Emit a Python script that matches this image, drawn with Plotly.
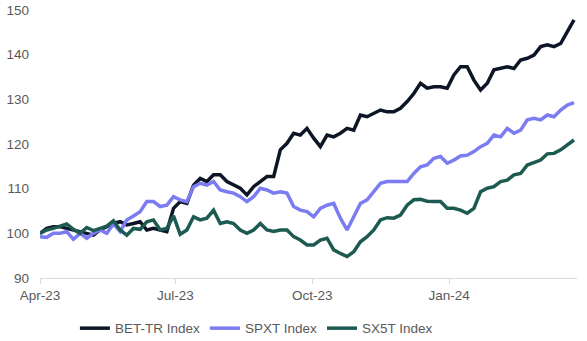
import pandas as pd
import plotly.graph_objects as go

start_date = "2023-04-01"
end_date = "2024-03-25"
n_points = 81
dates = pd.date_range(start_date, end_date, periods=n_points)

bet_tr = [100.0, 101.1, 101.5, 101.5, 101.1, 100.75, 100.4, 100.0, 99.6, 100.75,
          101.5, 102.2, 102.6, 101.9, 102.2, 102.6, 100.75, 101.1, 100.75, 100.4,
          105.6, 107.1, 106.7, 110.8, 112.3, 111.6, 113.1, 113.1, 111.6, 110.8,
          110.1, 108.6, 110.45, 111.6, 112.7, 112.7, 118.7, 120.15, 122.4, 122.0,
          123.5, 121.3, 119.4, 122.0, 121.6, 122.4, 123.5, 123.1, 126.5, 126.1,
          126.9, 127.6, 127.2, 127.2, 128.0, 129.5, 131.3, 133.6, 132.5, 132.8,
          132.8, 132.5, 135.45, 137.3, 137.3, 134.3, 132.1, 133.6, 136.6, 136.9,
          137.3, 136.9, 138.8, 139.2, 139.9, 141.8, 142.2, 141.8, 142.5, 145.15,
          147.8]

spxt = [99.25, 99.1, 100.0, 100.0, 100.4, 98.65, 100.0, 98.9, 100.0, 100.75,
        100.0, 102.1, 100.4, 103.0, 103.9, 104.85, 107.1, 107.1, 106.0, 106.3,
        108.2, 107.5, 107.1, 110.45, 111.2, 110.8, 111.6, 109.7, 109.3, 109.0,
        108.2, 107.1, 108.2, 110.1, 109.7, 109.0, 109.3, 109.0, 106.0, 105.2,
        104.85, 103.7, 105.6, 106.3, 106.7, 103.4, 100.75, 103.7, 106.7, 107.5,
        109.3, 111.2, 111.6, 111.6, 111.6, 111.6, 113.4, 114.9, 115.3, 116.8,
        117.2, 115.7, 116.4, 117.3, 117.5, 118.3, 119.4, 120.15, 122.0, 121.6,
        123.5, 122.4, 123.1, 125.4, 125.75, 125.4, 126.5, 126.1, 127.6, 128.7,
        129.25]

sx5t = [100.0, 100.75, 101.1, 101.6, 102.1, 100.9, 100.0, 101.3, 100.6, 101.1,
        101.6, 102.8, 100.75, 99.6, 101.1, 100.9, 102.6, 103.0, 100.75, 101.1,
        103.9, 99.8, 100.75, 103.7, 103.0, 103.4, 105.2, 102.2, 102.6, 102.2,
        100.75, 100.0, 100.75, 102.2, 100.75, 100.4, 100.75, 100.75, 99.25, 98.5,
        97.4, 97.4, 98.5, 98.9, 96.3, 95.5, 94.8, 95.9, 98.1, 99.25,
        100.75, 103.0, 103.5, 103.4, 104.1, 106.3, 107.5, 107.6, 107.2, 107.1,
        107.1, 105.6, 105.6, 105.2, 104.5, 105.6, 109.3, 110.1, 110.45, 111.6,
        111.9, 113.1, 113.4, 115.3, 115.8, 116.4, 117.8, 117.9, 118.7, 119.8,
        120.9]

series_names = ["BET-TR Index", "SPXT Index", "SX5T Index"]
series_values = [bet_tr, spxt, sx5t]
series_colors = ["#0d1626", "#7b7cf2", "#1c5a52"]

tick_dates = ["2023-04-01", "2023-07-01", "2023-10-01", "2024-01-01"]
tick_labels = ["Apr-23", "Jul-23", "Oct-23", "Jan-24"]
y_ticks = [90, 100, 110, 120, 130, 140, 150]

fig = go.Figure()
for name, vals, col in zip(series_names, series_values, series_colors):
    fig.add_trace(go.Scatter(x=dates, y=vals, mode="lines", name=name,
                             line=dict(color=col, width=3.5)))

font_family = "Liberation Sans, Arial, sans-serif"
fig.update_layout(
    width=587, height=341,
    margin=dict(l=40, r=10, t=10, b=63, autoexpand=False),
    paper_bgcolor="white", plot_bgcolor="white",
    font=dict(family=font_family, size=13, color="#595959"),
    showlegend=True,
    legend=dict(orientation="h", x=0.065, xanchor="left",
                yref="container", y=0.037, yanchor="middle",
                font=dict(size=13.5, color="#595959"), itemwidth=30,
                bgcolor="rgba(0,0,0,0)"),
    xaxis=dict(range=["2023-04-01", "2024-03-27"], tickmode="array",
               tickvals=tick_dates, ticktext=tick_labels, showgrid=False,
               showline=True, linecolor="#d9d9d9", linewidth=1,
               ticks="outside", ticklen=5, tickcolor="#d9d9d9",
               tickfont=dict(size=13.5, color="#595959"), zeroline=False,
               automargin=False),
    yaxis=dict(range=[90, 150], tickmode="array", tickvals=y_ticks,
               showgrid=False, showline=False, zeroline=False, ticks="",
               ticklabelstandoff=10, automargin=False,
               tickfont=dict(size=13.5, color="#595959")),
)

fig.write_html("out.html")
